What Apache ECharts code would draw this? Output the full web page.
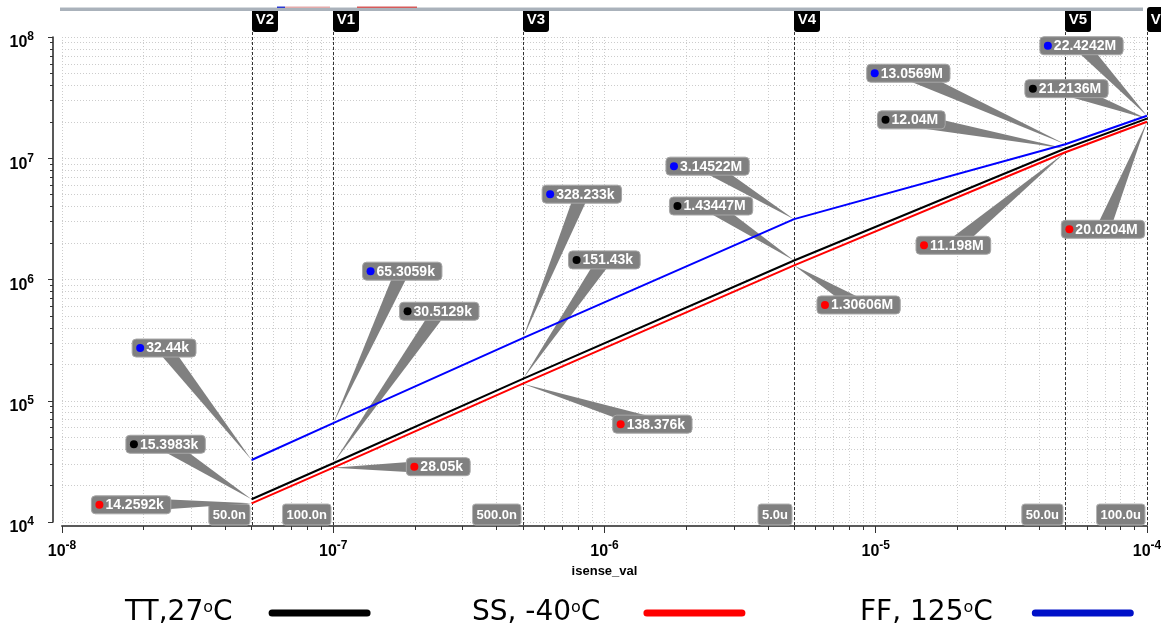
<!DOCTYPE html>
<html>
<head>
<meta charset="utf-8">
<script src="https://cdn.jsdelivr.net/npm/echarts@6/dist/echarts.min.js"></script>
<style>
  html, body { margin: 0; padding: 0; background: #ffffff; }
  #chart { width: 1161px; height: 628px; }
</style>
</head>
<body>
<div id="chart"></div>
<script>
// Sense current sweep points (A)
const isense = [5e-8, 1e-7, 5e-7, 5e-6, 5e-5, 1e-4];

// Corner results at each sweep point
const ttValues = [15398.3, 30512.9, 151430, 1434470, 12040000, 21213600];
const ssValues = [14259.2, 28050, 138376, 1306060, 11198000, 20020400];
const ffValues = [32440, 65305.9, 328233, 3145220, 13056900, 22424200];

const cornerNames = ['TT,27ºC', 'SS, -40ºC', 'FF, 125ºC'];

// Vertical marker names and their readouts
const markerNames = ['V2', 'V1', 'V3', 'V4', 'V5', 'V6'];
const markerTexts = ['50.0n', '100.0n', '500.0n', '5.0u', '50.0u', '100.0u'];

// Pixel offsets of each callout box from the point it annotates
const ttOffsets = [[-86, -55], [106, -152], [81.5, -119], [-83, -54.5], [-154, -28.6], [-80.5, -30]];
const ssOffsets = [[-120.5, 1.5], [105, -1], [129.5, 40.5], [64.5, 39.5], [-112, 93], [-44, 107.6]];
const ffOffsets = [[-87.5, -112], [69, -152], [59, -144], [-86.5, -53], [-157, -71], [-65.5, -70]];

const lineColors = ['#000000', '#ff0000', '#0000ff'];
const legendColors = ['#000000', '#ff0000', '#0010c8'];
const legendLeft = [125, 472, 860];
const legendTextGap = [31, 38, 34];

const LABEL_FONT = '"Liberation Sans", Arial, Helvetica, sans-serif';
const LEGEND_FONT = '"DejaVu Sans", Verdana, sans-serif';

const measureCtx = document.createElement('canvas').getContext('2d');
function textWidth(text, font) {
  measureCtx.font = font;
  return measureCtx.measureText(text).width;
}

function trimNum(x) {
  return String(parseFloat(x.toPrecision(6)));
}
function engFormat(v) {
  return v >= 1e6 ? trimNum(v / 1e6) + 'M' : trimNum(v / 1e3) + 'k';
}

function decadeLabel(v) {
  const e = Math.round(Math.log10(v));
  return '{b|10}{e|' + e + '}';
}
const decadeRich = {
  b: { fontSize: 16, fontWeight: 'bold', fontFamily: LABEL_FONT, color: '#000', padding: [12, 0, 0, 0] },
  e: { fontSize: 12, fontWeight: 'bold', fontFamily: LABEL_FONT, color: '#000' }
};

const gridLine = { show: true, lineStyle: { color: '#cccccc', type: [1, 2], width: 1 } };

function pairs(values) {
  return isense.map((x, i) => [x, values[i]]);
}

// Callout: gray pointer wedge + rounded box with a coloured dot and the value
function calloutSeries(values, offsets, color) {
  const calloutFont = 'bold 14px ' + LABEL_FONT;
  return {
    type: 'custom',
    z: 3,
    silent: true,
    data: pairs(values),
    renderItem: function (params, api) {
      const i = params.dataIndex;
      const p = api.coord([api.value(0), api.value(1)]);
      const off = offsets[i];
      const cx = p[0] + off[0];
      const cy = p[1] + off[1];
      const text = engFormat(values[i]);
      const w = textWidth(text, calloutFont) + 21;
      const h = 18;
      const bx = cx - w / 2;
      const by = cy - h / 2;
      const dx = p[0] - cx, dy = p[1] - cy;
      const len = Math.hypot(dx, dy) || 1;
      const nx = -dy / len * 7, ny = dx / len * 7;
      return {
        type: 'group',
        children: [
          { type: 'polygon', shape: { points: [[cx + nx, cy + ny], [cx - nx, cy - ny], [p[0], p[1]]] },
            style: { fill: '#808080' } },
          { type: 'rect', shape: { x: bx, y: by, width: w, height: h, r: 4 },
            style: { fill: '#808080', stroke: '#a6a6a6', lineWidth: 1 } },
          { type: 'circle', shape: { cx: bx + 8, cy: cy, r: 4 }, style: { fill: color } },
          { type: 'text', style: { x: bx + 14, y: cy + 0.5, text: text, fill: '#ffffff', font: calloutFont,
            align: 'left', verticalAlign: 'middle' } }
        ]
      };
    }
  };
}

// Dashed vertical markers with name tag on top and readout at the axis
const markerSeries = {
  type: 'custom',
  z: 2,
  silent: true,
  data: isense.map(x => [x, 1e6]),
  renderItem: function (params, api) {
    const i = params.dataIndex;
    const cs = params.coordSys;
    const x = Math.round(api.coord([api.value(0), 1e6])[0]) + 0.5;
    const bottom = cs.y + cs.height + 4;
    const readFont = 'bold 13px ' + LABEL_FONT;
    const rw = textWidth(markerTexts[i], readFont) + 8;
    return {
      type: 'group',
      children: [
        { type: 'line', shape: { x1: x, y1: 32, x2: x, y2: bottom },
          style: { stroke: '#333333', lineWidth: 1, lineDash: [3, 2] } },
        { type: 'rect', shape: { x: x - 0.5, y: 7, width: 26, height: 25, r: 3 }, style: { fill: '#000000' } },
        { type: 'text', style: { x: x + 12.5, y: 20, text: markerNames[i], fill: '#ffffff',
          font: 'bold 15px ' + LABEL_FONT, align: 'center', verticalAlign: 'middle' } },
        { type: 'rect', shape: { x: x - 2.5 - rw, y: bottom - 22, width: rw, height: 21, r: 3 },
          style: { fill: '#808080', stroke: '#b4b4b4', lineWidth: 1 } },
        { type: 'text', style: { x: x - 2.5 - rw / 2, y: bottom - 11, text: markerTexts[i], fill: '#ffffff',
          font: readFont, align: 'center', verticalAlign: 'middle' } }
      ]
    };
  }
};

const chart = echarts.init(document.getElementById('chart'), null, { renderer: 'canvas' });

chart.setOption({
  animation: false,
  backgroundColor: '#ffffff',
  grid: { left: 62, right: 14, top: 37, bottom: 106, containLabel: false, outerBoundsMode: 'none' },
  graphic: [
    { type: 'rect', shape: { x: 60, y: 7, width: 1083, height: 4 }, style: { fill: '#aab2bb' }, z: 10 },
    { type: 'rect', shape: { x: 60, y: 7, width: 1083, height: 1 }, style: { fill: '#d6dade' }, z: 11 },
    { type: 'rect', shape: { x: 277, y: 6.5, width: 8, height: 1.5 }, style: { fill: '#2a3ad0' }, z: 12 },
    { type: 'rect', shape: { x: 285, y: 6.5, width: 45, height: 1.5 }, style: { fill: '#e3aaaa' }, z: 12 },
    { type: 'rect', shape: { x: 357, y: 6.5, width: 60, height: 1.5 }, style: { fill: '#d65a5a' }, z: 12 }
  ],
  legend: cornerNames.map((name, i) => ({
    data: [{ name: name, itemStyle: { color: legendColors[i] } }],
    left: legendLeft[i],
    top: 597,
    padding: 0,
    align: 'right',
    selectedMode: false,
    itemWidth: 102,
    itemHeight: 7,
    icon: 'path://M3.5,0 L98.5,0 A3.5,3.5 0 0 1 98.5,7 L3.5,7 A3.5,3.5 0 0 1 3.5,0 Z',
    formatter: function (n) {
      const parts = n.split('º');
      return '{t|' + parts[0] + '}{s|o}{t|' + parts[1] + '}';
    },
    textStyle: {
      padding: [0, legendTextGap[i], 0, 0],
      rich: {
        t: { fontSize: 28, fontFamily: LEGEND_FONT, color: '#000', lineHeight: 32 },
        s: { fontSize: 16, fontFamily: LEGEND_FONT, color: '#000', lineHeight: 16, verticalAlign: 'top', padding: [3, 0, 0, 0] }
      }
    }
  })),
  xAxis: {
    type: 'log',
    logBase: 10,
    min: 1e-8,
    max: 1e-4,
    position: 'bottom',
    offset: 4,
    name: 'isense_val',
    nameLocation: 'middle',
    nameGap: 24,
    nameTextStyle: { fontSize: 13, fontWeight: 'bold', fontFamily: LABEL_FONT, color: '#000' },
    axisLine: { show: true, onZero: false, lineStyle: { color: '#5a5a5a', width: 2 } },
    axisTick: { show: true, inside: false, length: 7, lineStyle: { color: '#333', width: 1 } },
    minorTick: { show: true, splitNumber: 9, length: 4, lineStyle: { color: '#333', width: 1 } },
    axisLabel: { margin: 6, formatter: decadeLabel, rich: decadeRich },
    splitLine: gridLine,
    minorSplitLine: gridLine
  },
  yAxis: {
    type: 'log',
    logBase: 10,
    min: 1e4,
    max: 1e8,
    position: 'left',
    offset: 9,
    axisLine: { show: true, onZero: false, lineStyle: { color: '#222', width: 1.5 } },
    axisTick: { show: true, inside: false, length: 5, lineStyle: { color: '#333', width: 1 } },
    minorTick: { show: true, splitNumber: 9, length: 3, lineStyle: { color: '#333', width: 1 } },
    axisLabel: { margin: 19, formatter: decadeLabel, rich: decadeRich },
    splitLine: gridLine,
    minorSplitLine: gridLine
  },
  series: [
    markerSeries,
    calloutSeries(ttValues, ttOffsets, '#000000'),
    calloutSeries(ssValues, ssOffsets, '#ff0000'),
    calloutSeries(ffValues, ffOffsets, '#0000ff'),
    { name: cornerNames[0], type: 'line', z: 5, data: pairs(ttValues), showSymbol: false, symbol: 'none',
      lineStyle: { color: lineColors[0], width: 2 }, itemStyle: { color: lineColors[0] } },
    { name: cornerNames[1], type: 'line', z: 5, data: pairs(ssValues), showSymbol: false, symbol: 'none',
      lineStyle: { color: lineColors[1], width: 2 }, itemStyle: { color: lineColors[1] } },
    { name: cornerNames[2], type: 'line', z: 5, data: pairs(ffValues), showSymbol: false, symbol: 'none',
      lineStyle: { color: lineColors[2], width: 2 }, itemStyle: { color: lineColors[2] } }
  ]
});
</script>
</body>
</html>
